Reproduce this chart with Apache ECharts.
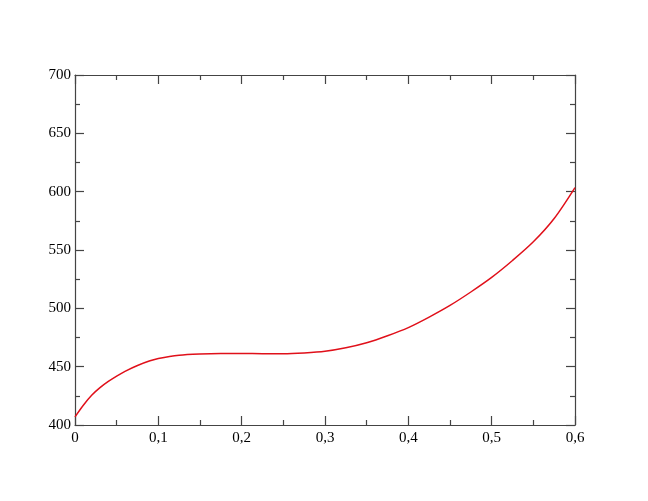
<!DOCTYPE html>
<html>
<head>
<meta charset="utf-8">
<script src="https://cdn.jsdelivr.net/npm/echarts@6/dist/echarts.min.js"></script>
<style>
  html, body { margin: 0; padding: 0; background: #fff; }
  #chart { width: 648px; height: 501px; }
</style>
</head>
<body>
<div id="chart"></div>
<script>
// values
var xValues = [0, 0.01, 0.02, 0.03, 0.04, 0.05, 0.06, 0.075, 0.09, 0.1, 0.125, 0.15, 0.175, 0.2,
               0.225, 0.25, 0.275, 0.3, 0.325, 0.35, 0.375, 0.4, 0.425, 0.45, 0.475, 0.5,
               0.525, 0.55, 0.575, 0.6];
var yValues = [407, 417, 425.5, 432, 437.3, 441.9, 446, 451, 455, 457, 459.8, 460.9, 461.3, 461.3,
               461.1, 461.1, 461.8, 463.2, 466.2, 470.5, 476.5, 483.5, 492.5, 502.5, 514, 526.5,
               541, 557, 577, 603.5];

var points = [];
for (var i = 0; i < xValues.length; i++) {
    points.push([xValues[i], yValues[i]]);
}

var fontStyle = { color: '#000', fontFamily: 'Liberation Serif', fontSize: 15 };
var lineStyle = { color: '#444', width: 1.2 };

function commaLabel(v) {
    return String(Math.round(v * 10) / 10).replace('.', ',');
}

// frame axis: ticks pointing into the plot, no zero-snapping
function frameAxis(extra) {
    return Object.assign({
        type: 'value',
        axisLine: { show: true, onZero: false, lineStyle: lineStyle },
        axisTick: { show: true, inside: true, length: 9, lineStyle: lineStyle },
        minorTick: { show: true, splitNumber: 2, length: 5, lineStyle: lineStyle },
        splitLine: { show: false },
        axisLabel: { show: false }
    }, extra);
}

var myChart = echarts.init(document.getElementById('chart'));
var option = {
    animation: false,
    backgroundColor: '#fff',
    grid: { left: 75, right: 73, top: 75, bottom: 76 },
    xAxis: [
        frameAxis({ min: 0, max: 0.6, interval: 0.1, position: 'bottom',
            axisLabel: Object.assign({ show: true, margin: 6, formatter: commaLabel }, fontStyle) }),
        frameAxis({ min: 0, max: 0.6, interval: 0.1, position: 'top' })
    ],
    yAxis: [
        frameAxis({ min: 400, max: 700, interval: 50, position: 'left',
            axisLabel: Object.assign({ show: true, margin: 4 }, fontStyle) }),
        frameAxis({ min: 400, max: 700, interval: 50, position: 'right' })
    ],
    series: [
        {
            type: 'line',
            data: points,
            smooth: 0.3,
            showSymbol: false,
            lineStyle: { color: '#e0101a', width: 1.5 }
        }
    ]
};
myChart.setOption(option);
</script>
</body>
</html>
